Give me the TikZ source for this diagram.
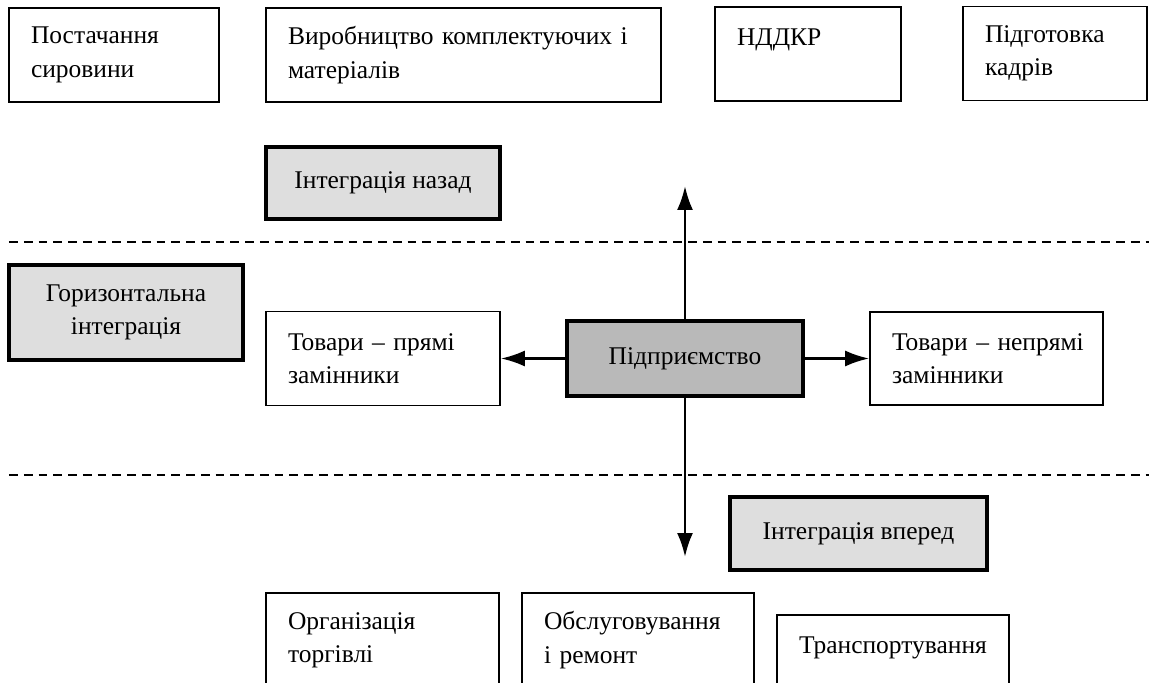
\documentclass[tikz,border=0pt]{standalone}
\usepackage{fontspec}
\setmainfont{Liberation Serif}
\usetikzlibrary{arrows.meta,positioning}
\definecolor{intgray}{RGB}{222,222,222}
\definecolor{firmgray}{RGB}{185,185,185}

\begin{document}
\begin{tikzpicture}[every node/.style={font=\fontsize{14.5}{19}\selectfont},
    box/.style={draw,line width=0.9pt,align=left,inner xsep=0.44cm,inner ysep=0pt,
                text width=#1,minimum height=1.88cm},
    grbox/.style={draw,line width=2.3pt,fill=intgray,align=center,
                  minimum width=#1,minimum height=1.44cm},
    sep/.style={line width=1pt,dash pattern=on 5pt off 3.4pt},
    link/.style={line width=1.5pt,-{Latex[length=0.48cm,width=0.32cm]}}]
    \useasboundingbox (0,0) rectangle (22.98,-13.66);
    \clip (0,0) rectangle (22.98,-13.66);
    % suppliers
    \node[box=3.32cm] (supply) at (2.28,-1.10)  {Постачання\\сировини};
    \node[box=7.02cm] (parts)  at (9.27,-1.10)  {\mbox{Виробництво комплектуючих і}\\матеріалів};
    \node[box=2.84cm] (rnd)    at (16.16,-1.08) {НДДКР\\\mbox{}};
    \node[box=2.80cm] (staff)  at (21.10,-1.07) {Підготовка\\кадрів};
    \node[grbox=4.68cm] (back) at (7.66,-3.66) {Інтеграція назад};
    % middle level
    \node[grbox=4.68cm,minimum height=1.90cm] (horiz) at (2.52,-6.25) {Горизонтальна\\інтеграція};
    \node[box=3.80cm] (direct) at (7.66,-7.17) {\mbox{Товари – прямі}\\замінники};
    \node[grbox=4.72cm,fill=firmgray,minimum height=1.50cm] (firm) at (13.70,-7.17) {Підприємство};
    \node[box=3.78cm,minimum height=1.86cm] (indirect) at (19.73,-7.17) {\mbox{Товари – непрямі}\\замінники};
    % buyers
    \node[grbox=5.14cm,minimum height=1.46cm] (fwd) at (17.17,-10.67) {Інтеграція вперед};
    \node[box=3.78cm] (trade)     at (7.65,-12.80)  {Організація\\торгівлі};
    \node[box=3.76cm] (service)   at (12.76,-12.80) {Обслуговування\\і ремонт};
    \node[box=3.76cm] (transport) at (17.86,-13.24) {Транспортування\\\mbox{}};
    \draw[sep] (0.18,-4.84) -- (22.98,-4.84);
    \draw[sep] (0.18,-9.50) -- (22.98,-9.50);
    \coordinate (uptip)   at (13.70,-3.72);
    \coordinate (downtip) at (13.70,-11.14);
    \draw[link] (firm) -- (uptip);
    \draw[link] (firm) -- (downtip);
    \draw[link] (firm) -- (direct);
    \draw[link] (firm) -- (indirect);
\end{tikzpicture}
\end{document}
